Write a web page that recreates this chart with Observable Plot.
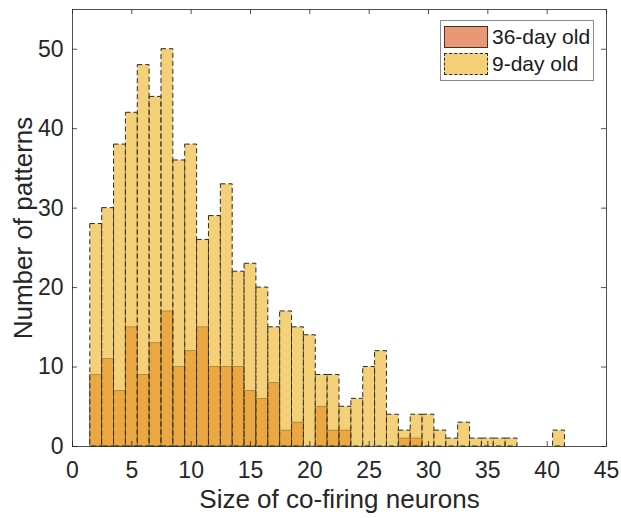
<!DOCTYPE html>
<html>
<head>
<meta charset="utf-8">
<script src="https://cdn.jsdelivr.net/npm/d3@7"></script>
<script src="https://cdn.jsdelivr.net/npm/@observablehq/plot@0.6"></script>
<style>
  html, body { margin: 0; padding: 0; background: #fff; }
  #wrap { position: relative; width: 621px; height: 518px; font-family: "Liberation Sans", Arial, sans-serif; }
  #legend { position: absolute; left: 440px; top: 20px; width: 154px; height: 61px; border: 1px solid #8a8a8a; background: #fff; box-sizing: border-box; }
  .row { position: absolute; left: 3px; height: 22px; display: flex; align-items: center; }
  .sw { width: 44px; height: 22px; box-sizing: border-box; margin-right: 4px; flex: none; }
  .lab { font-size: 21px; color: #1a1a1a; white-space: nowrap; line-height: 22px; }
</style>
</head>
<body>
<div id="wrap"></div>
<script>
// Bin centres (bin width 1)
const sizes = d3.range(2, 42);
// 9-day old counts per bin (sizes 2..41)
const day9 = [28, 30, 38, 42, 48, 44, 50, 36, 38, 26, 29, 33, 22, 23, 20, 15, 17, 15, 14, 9,
              9, 5, 6, 10, 12, 4, 2, 4, 4, 2, 1, 3, 1, 1, 1, 1, 0, 0, 0, 2];
// 36-day old counts per bin (sizes 2..41)
const day36 = [9, 11, 7, 15, 9, 13, 17, 10, 12, 15, 10, 10, 10, 7, 6, 8, 2, 3, 0, 5,
               2, 2, 0, 0, 0, 0, 1, 1, 0, 0, 0, 0, 0, 0, 0, 0, 0, 0, 0, 0];
const xTicks = [0, 5, 10, 15, 20, 25, 30, 35, 40, 45];
const yTicks = [0, 10, 20, 30, 40, 50];
const seriesNames = ["36-day old", "9-day old"];

const bins9 = sizes.map((s, i) => ({x: s, v: day9[i]})).filter(d => d.v > 0);
const bins36 = sizes.map((s, i) => ({x: s, v: day36[i]})).filter(d => d.v > 0);

const W = 621, H = 518;
const mL = 72, mR = 15, mT = 9, mB = 72;
const fh = H - mT - mB, fw = W - mL - mR;
const tl = 5;
const axisCol = "#262626";

const chart = Plot.plot({
  width: W, height: H,
  marginLeft: mL, marginRight: mR, marginTop: mT, marginBottom: mB,
  style: {fontFamily: "Liberation Sans, Arial, sans-serif", color: axisCol, background: "#fff"},
  x: {domain: [0, 45], ticks: xTicks},
  y: {domain: [0, 55], ticks: yTicks},
  marks: [
    Plot.rectY(bins36, {x1: d => d.x - 0.5, x2: d => d.x + 0.5, y1: 0, y2: "v",
      fill: "#D95319", fillOpacity: 0.6, stroke: "#000", strokeWidth: 0.7, strokeOpacity: 0.8}),
    Plot.rectY(bins9, {x1: d => d.x - 0.5, x2: d => d.x + 0.5, y1: 0, y2: "v",
      fill: "#EDB120", fillOpacity: 0.6, stroke: "#2a2a2a", strokeWidth: 1, strokeDasharray: "5,3"}),
    Plot.frame({stroke: axisCol, strokeWidth: 0.8}),
    // inward ticks, bottom and top
    Plot.tickX(xTicks, {x: d => d, insetTop: fh - tl, stroke: axisCol, strokeWidth: 0.8}),
    Plot.tickX(xTicks, {x: d => d, insetBottom: fh - tl, stroke: axisCol, strokeWidth: 0.8}),
    // inward ticks, left and right
    Plot.tickY(yTicks, {y: d => d, insetRight: fw - tl, stroke: axisCol, strokeWidth: 0.8}),
    Plot.tickY(yTicks, {y: d => d, insetLeft: fw - tl, stroke: axisCol, strokeWidth: 0.8}),
    Plot.axisX(xTicks, {tickSize: 0, tickPadding: 15, fontSize: 23, label: null, fill: axisCol}),
    Plot.axisY(yTicks, {tickSize: 0, tickPadding: 9, fontSize: 23, label: null, fill: axisCol}),
    Plot.text(["Size of co-firing neurons"], {frameAnchor: "bottom", dy: 53, fontSize: 26, fill: axisCol, lineAnchor: "middle", textAnchor: "middle"}),
    Plot.text(["Number of patterns"], {frameAnchor: "left", dx: -49, rotate: -90, fontSize: 26, fill: axisCol, lineAnchor: "middle", textAnchor: "middle"})
  ]
});

const wrap = document.getElementById("wrap");
wrap.appendChild(chart);

const legend = document.createElement("div");
legend.id = "legend";
const swatches = [
  {bg: "rgb(232,152,117)", border: "1px solid #4a3026"},
  {bg: "rgb(244,208,121)", border: "1px dashed #2a2a2a"}
];
seriesNames.forEach((name, i) => {
  const row = document.createElement("div");
  row.className = "row";
  row.style.top = (5 + i * 27) + "px";
  const sw = document.createElement("div");
  sw.className = "sw";
  sw.style.background = swatches[i].bg;
  sw.style.border = swatches[i].border;
  const lab = document.createElement("span");
  lab.className = "lab";
  lab.textContent = name;
  row.appendChild(sw);
  row.appendChild(lab);
  legend.appendChild(row);
});
wrap.appendChild(legend);
</script>
</body>
</html>
